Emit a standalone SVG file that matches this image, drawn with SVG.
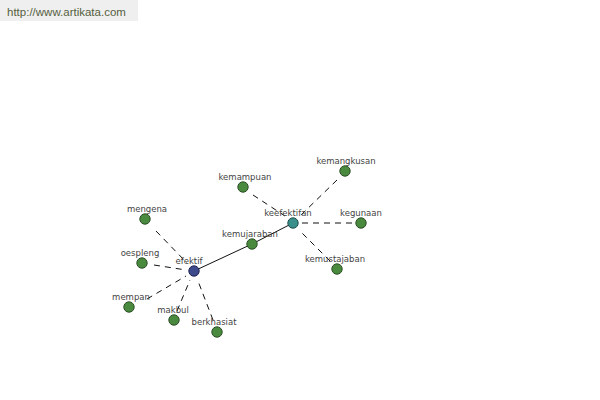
<svg xmlns="http://www.w3.org/2000/svg" width="600" height="400" viewBox="0 0 600 400">
<style>
.lbl{font-family:Tahoma,"DejaVu Sans","Liberation Sans",sans-serif;font-size:8.5px;fill:#444;text-anchor:middle}
.leaf{fill:#4a8a3e;stroke:#2d4f28;stroke-width:1}
.dash{stroke:#111;stroke-width:1;stroke-dasharray:6,5;fill:none}
.solid{stroke:#111;stroke-width:1;fill:none}
</style>
<rect width="600" height="400" fill="#fff"/>
<rect x="0" y="0" width="138" height="21" fill="#efefef"/>
<text x="7" y="15.5" font-family="Arial,'Liberation Sans',sans-serif" font-size="11.5" fill="#56603f">http://www.artikata.com</text>
<g id="connectors">
<line class="solid" x1="194" y1="271" x2="252" y2="244"/>
<line class="solid" x1="252" y1="244" x2="293" y2="223"/>
<line class="dash" x1="156" y1="231" x2="187" y2="263"/>
<line class="dash" x1="154" y1="265" x2="186" y2="270"/>
<line class="dash" x1="147" y1="299" x2="186" y2="276"/>
<line class="dash" x1="177" y1="311" x2="190" y2="280"/>
<line class="dash" x1="213" y1="320" x2="198" y2="281"/>
<line class="dash" x1="253" y1="195" x2="285" y2="216"/>
<line class="dash" x1="337" y1="180" x2="300" y2="216"/>
<line class="dash" x1="352" y1="223" x2="302" y2="223"/>
<line class="dash" x1="330" y1="261" x2="300" y2="231"/>
</g>
<g id="node-efektif"><circle cx="194" cy="271" r="5.2" fill="#3d4a8c" stroke="#1f2555"/><text class="lbl" x="189" y="263.5">efektif</text></g>
<g id="node-keefektifan"><circle cx="293" cy="223" r="5.2" fill="#3a8f8a" stroke="#1f4f4d"/><text class="lbl" x="288" y="215.5">keefektifan</text></g>
<g id="node-kemujaraban"><circle class="leaf" cx="252" cy="244" r="5.2"/><text class="lbl" x="250" y="236.5">kemujaraban</text></g>
<g id="node-kemampuan"><circle class="leaf" cx="243" cy="187" r="5.2"/><text class="lbl" x="245" y="179.5">kemampuan</text></g>
<g id="node-kemangkusan"><circle class="leaf" cx="345" cy="171" r="5.2"/><text class="lbl" x="346" y="163.5">kemangkusan</text></g>
<g id="node-kegunaan"><circle class="leaf" cx="361" cy="223" r="5.2"/><text class="lbl" x="361" y="215.5">kegunaan</text></g>
<g id="node-kemustajaban"><circle class="leaf" cx="337" cy="269" r="5.2"/><text class="lbl" x="335" y="261.5">kemustajaban</text></g>
<g id="node-mengena"><circle class="leaf" cx="145" cy="219" r="5.2"/><text class="lbl" x="147" y="211.5">mengena</text></g>
<g id="node-oespleng"><circle class="leaf" cx="142" cy="263" r="5.2"/><text class="lbl" x="140" y="255.5">oespleng</text></g>
<g id="node-mempan"><circle class="leaf" cx="129" cy="307" r="5.2"/><text class="lbl" x="131" y="299.5">mempan</text></g>
<g id="node-makbul"><circle class="leaf" cx="174" cy="320" r="5.2"/><text class="lbl" x="173" y="312.5">makbul</text></g>
<g id="node-berkhasiat"><circle class="leaf" cx="217" cy="332" r="5.2"/><text class="lbl" x="214" y="324.5">berkhasiat</text></g>
</svg>
